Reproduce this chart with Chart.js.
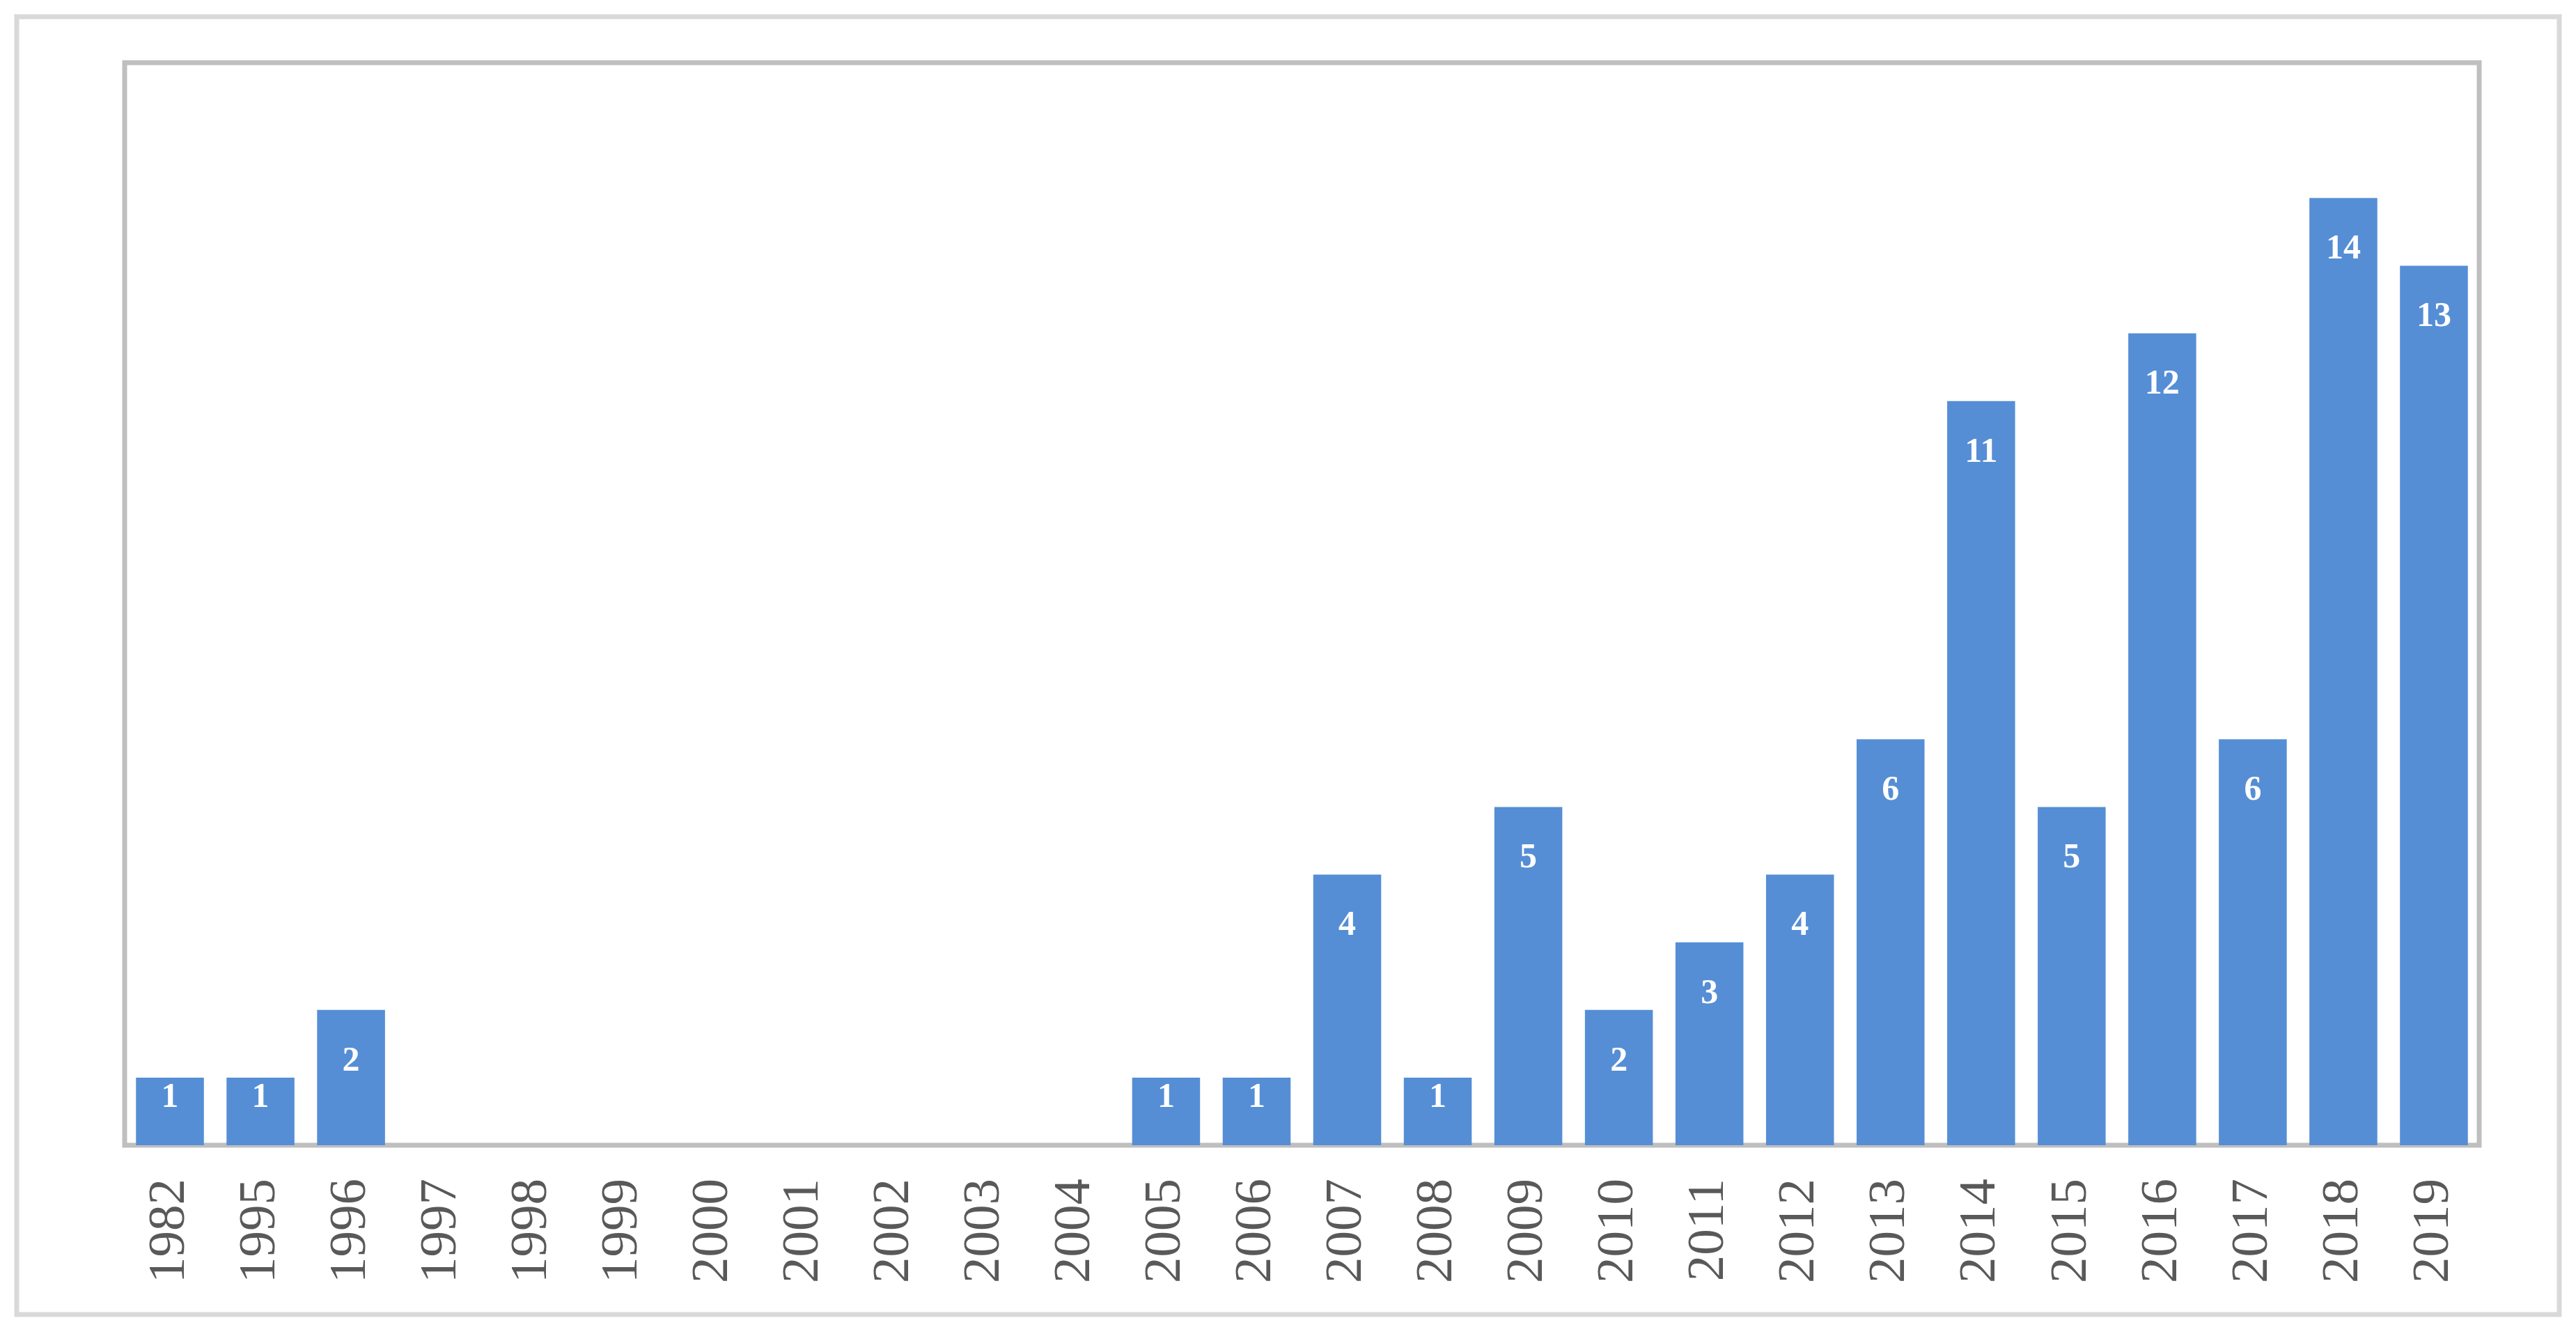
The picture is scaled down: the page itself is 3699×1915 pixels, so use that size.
<!DOCTYPE html>
<html>
<head>
<meta charset="utf-8">
<script src="https://cdn.jsdelivr.net/npm/chart.js@4.4.1/dist/chart.umd.min.js"></script>
<style>
  html, body { margin: 0; padding: 0; background: #fff; }
  #wrap { width: 3699px; height: 1915px; }
</style>
</head>
<body>
<div id="wrap"><canvas id="yearChart" width="3699" height="1915"></canvas></div>
<script>
// publication counts per year
const years = ['1982', '1995', '1996', '1997', '1998', '1999', '2000', '2001', '2002', '2003', '2004',
    '2005', '2006', '2007', '2008', '2009', '2010', '2011', '2012', '2013', '2014', '2015', '2016',
    '2017', '2018', '2019']
const counts = [1, 1, 2, 0, 0, 0, 0, 0, 0, 0, 0,
    1, 1, 4, 1, 5, 2, 3, 4, 6, 11, 5, 12,
    6, 14, 13]
const yRange = [0, 16]

const barColor = '#558ED5'

// outer light grey frame round the whole picture
const outerFrame = {
    id: 'outerFrame',
    beforeDraw(chart) {
        const ctx = chart.ctx
        ctx.save()
        ctx.fillStyle = '#ffffff'
        ctx.fillRect(0, 0, chart.width, chart.height)
        ctx.strokeStyle = '#D9D9D9'
        ctx.lineWidth = 7
        ctx.strokeRect(24, 24, chart.width - 48, chart.height - 52)
        ctx.restore()
    }
}

// grey box round the plot area, drawn under the bars
const plotBorder = {
    id: 'plotBorder',
    beforeDatasetsDraw(chart) {
        const a = chart.chartArea
        const ctx = chart.ctx
        ctx.save()
        ctx.strokeStyle = '#BFBFBF'
        ctx.lineWidth = 7
        ctx.strokeRect(a.left, a.top, a.right - a.left, a.bottom - a.top)
        ctx.restore()
    }
}

// white value labels inside the top end of each bar
const valueLabels = {
    id: 'valueLabels',
    afterDatasetsDraw(chart) {
        const ctx = chart.ctx
        const meta = chart.getDatasetMeta(0)
        ctx.save()
        ctx.fillStyle = '#ffffff'
        ctx.font = 'bold 50px "Liberation Serif", serif'
        ctx.textAlign = 'center'
        ctx.textBaseline = 'middle'
        meta.data.forEach((bar, i) => {
            const v = counts[i]
            if (!v) return
            const h = bar.base - bar.y
            const y = h >= 150 ? bar.y + 74 : bar.y + 29
            ctx.fillText(String(v), bar.x, y)
        })
        ctx.restore()
    }
}

const ctx = document.getElementById('yearChart').getContext('2d')

new Chart(ctx, {
    type: 'bar',
    data: {
        labels: years,
        datasets: [{
            data: counts,
            backgroundColor: barColor,
            categoryPercentage: 1,
            barPercentage: 0.75
        }]
    },
    options: {
        responsive: false,
        animation: false,
        layout: {
            padding: { left: 179, top: 90, right: 139, bottom: 0 }
        },
        plugins: {
            legend: { display: false },
            tooltip: { enabled: false }
        },
        scales: {
            x: {
                grid: { display: false, drawTicks: false },
                border: { display: false },
                ticks: {
                    color: '#595959',
                    font: { family: '"Liberation Serif", serif', size: 75 },
                    minRotation: 90,
                    maxRotation: 90,
                    autoSkip: false,
                    padding: 48
                },
                afterFit(scale) {
                    scale.height = 271
                }
            },
            y: {
                display: false,
                min: yRange[0],
                max: yRange[1]
            }
        }
    },
    plugins: [outerFrame, plotBorder, valueLabels]
})
</script>
</body>
</html>
